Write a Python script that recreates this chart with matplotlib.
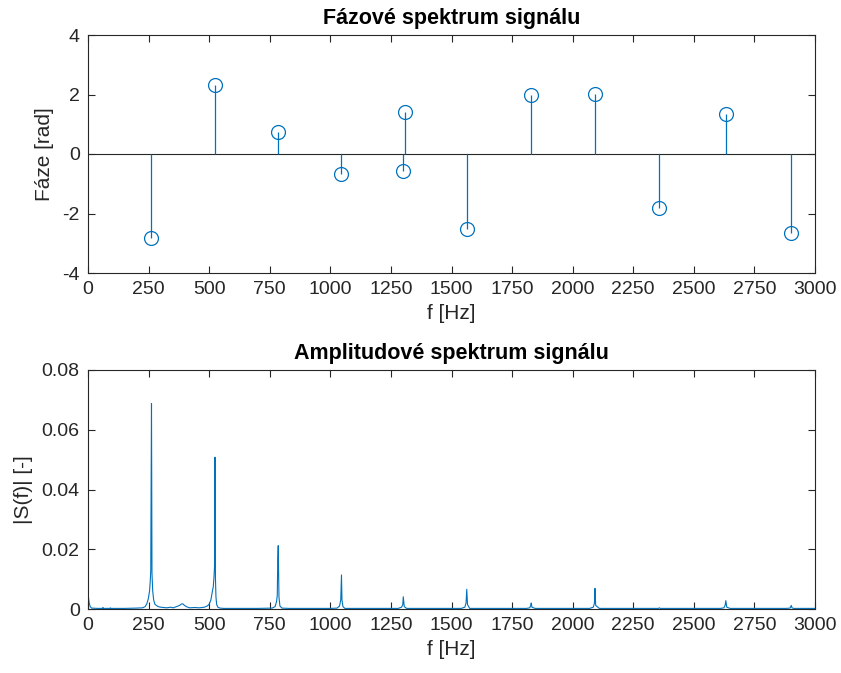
import numpy as np
import matplotlib
matplotlib.use('Agg')
import matplotlib.pyplot as plt

plt.rcParams['font.family'] = ['Liberation Sans', 'DejaVu Sans']
plt.rcParams['axes.unicode_minus'] = False

# phase spectrum (stems)
phase_f = [261, 524, 785, 1046, 1301, 1308, 1564, 1829, 2092, 2358, 2632, 2903]
phase_val = [-2.84, 2.33, 0.74, -0.68, -0.57, 1.40, -2.51, 1.99, 2.02, -1.81, 1.33, -2.65]

# amplitude spectrum
spec_f = [0, 2, 5, 9, 15, 40, 60, 62, 64, 90, 92, 94, 150, 200, 225, 236, 243,
          249, 254, 257, 259, 261, 262, 264, 267, 271, 276, 282, 290, 300, 312,
          325, 340, 352, 365, 378, 386, 392, 398, 408, 420, 440, 460, 480, 492,
          500, 507, 513, 517, 520, 522, 524, 526, 528, 531, 536, 545, 560, 620,
          700, 760, 772, 778, 781, 783, 785, 788, 792, 800, 830, 1000, 1028,
          1038, 1043, 1046, 1048, 1052, 1060, 1100, 1280, 1294, 1299, 1301,
          1305, 1315, 1540, 1555, 1560, 1563, 1566, 1575, 1810, 1823, 1827,
          1829, 1832, 1845, 2070, 2085, 2090, 2092, 2095, 2110, 2340, 2354,
          2358, 2362, 2380, 2610, 2624, 2629, 2632, 2636, 2650, 2880, 2897,
          2902, 2905, 2912, 2950, 3000]
spec_a = [0.0042, 0.0038, 0.0020, 0.0008, 0.0003, 0.0002, 0.0002, 0.0005, 0.0002,
          0.0002, 0.0004, 0.0002, 0.0002, 0.0003, 0.0004, 0.0008, 0.0018,
          0.0035, 0.0060, 0.0095, 0.0130, 0.0510, 0.0688, 0.0120, 0.0060,
          0.0030, 0.0016, 0.0012, 0.0008, 0.0006, 0.0005, 0.0004, 0.0006,
          0.0004, 0.0008, 0.0012, 0.0017, 0.0017, 0.0012, 0.0007, 0.0004,
          0.0005, 0.0004, 0.0006, 0.0010, 0.0016, 0.0030, 0.0058, 0.0075,
          0.0108, 0.0140, 0.0508, 0.0100, 0.0040, 0.0015, 0.0006, 0.0003,
          0.0002, 0.0002, 0.0002, 0.0003, 0.0008, 0.0025, 0.0045, 0.0160,
          0.0212, 0.0040, 0.0010, 0.0003, 0.0002, 0.0002, 0.0003, 0.0010,
          0.0030, 0.0114, 0.0030, 0.0008, 0.0002, 0.0002, 0.0002, 0.0006,
          0.0015, 0.0041, 0.0008, 0.0002, 0.0002, 0.0006, 0.0020, 0.0066,
          0.0015, 0.0002, 0.0002, 0.0004, 0.0012, 0.0020, 0.0006, 0.0002,
          0.0002, 0.0006, 0.0020, 0.0069, 0.0012, 0.0002, 0.0002, 0.0002,
          0.0004, 0.0002, 0.0002, 0.0002, 0.0004, 0.0012, 0.0028, 0.0006,
          0.0002, 0.0002, 0.0003, 0.0012, 0.0004, 0.0002, 0.0002, 0.0002]

x_ticks = np.arange(0, 3001, 250)
blue = '#0072BD'
axis_col = '#262626'

fig = plt.figure(figsize=(8.41, 6.73), dpi=100)
ax1 = fig.add_axes([88/841, 1 - 273/673, 727/841, 238/673])
ax2 = fig.add_axes([88/841, 1 - 609/673, 727/841, 239/673])

# top: phase
ax1.axhline(0, color=axis_col, lw=0.8, zorder=1)
ax1.vlines(phase_f, 0, phase_val, color=blue, lw=0.9, zorder=2)
ax1.plot(phase_f, phase_val, 'o', mfc='none', mec=blue, ms=10, mew=0.9, zorder=3)
ax1.set_xlim(0, 3000)
ax1.set_ylim(-4, 4)
ax1.set_yticks([-4, -2, 0, 2, 4])
ax1.set_title('Fázové spektrum signálu', fontsize=15.5, fontweight='bold', pad=8)
ax1.set_ylabel('Fáze [rad]', fontsize=15, color=axis_col, labelpad=6)

# bottom: amplitude
ax2.plot(spec_f, spec_a, color=blue, lw=0.8)
ax2.set_xlim(0, 3000)
ax2.set_ylim(0, 0.08)
ax2.set_yticks([0, 0.02, 0.04, 0.06, 0.08])
ax2.set_yticklabels(['0', '0.02', '0.04', '0.06', '0.08'])
ax2.set_title('Amplitudové spektrum signálu', fontsize=15.5, fontweight='bold', pad=8)
ax2.set_ylabel('|S(f)| [-]', fontsize=15, color=axis_col, labelpad=6)

for ax in (ax1, ax2):
    ax.set_xticks(x_ticks)
    ax.set_xlabel('f [Hz]', fontsize=15, labelpad=4, color=axis_col)
    ax.tick_params(direction='in', top=True, right=True, length=5, width=0.8,
                   colors=axis_col, labelsize=14, labelcolor=axis_col, pad=6)
    for s in ax.spines.values():
        s.set_color(axis_col)
        s.set_linewidth(0.8)

fig.savefig('out.png', dpi=100)
